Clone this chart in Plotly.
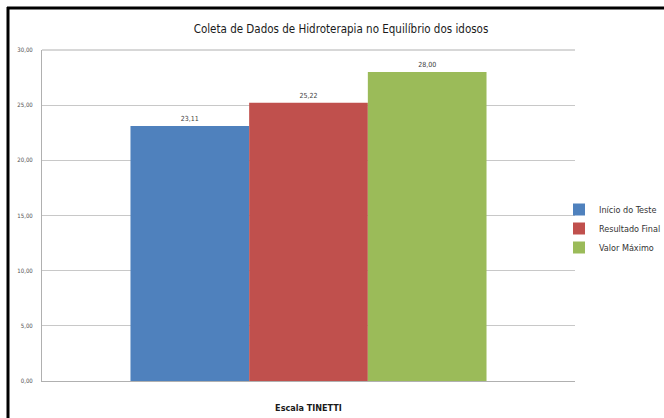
import plotly.graph_objects as go

categories = ["Escala TINETTI"]
series_names = ["Início do Teste", "Resultado Final", "Valor Máximo"]
series_values = [[23.11], [25.22], [28.00]]
label_texts = ["23,11", "25,22", "28,00"]
colors = ["#4F81BD", "#C0504D", "#9BBB59"]
y_ticks = [0, 5, 10, 15, 20, 25, 30]

W, H = 664, 418
L, R, T, B = 42, 89, 50, 37
pw, ph = W - L - R, H - T - B

fig = go.Figure()
for name, vals, lab, col in zip(series_names, series_values, label_texts, colors):
    fig.add_trace(go.Bar(
        x=categories, y=vals, name=name, marker=dict(color=col, line=dict(width=0)),
        text=[lab], textposition="outside", cliponaxis=False,
        textfont=dict(size=7, color="#404040", family="DejaVu Sans Condensed"),
    ))

def px(x):
    return (x - L) / pw

def py(y):
    return 1 - (y - T) / ph

font_fam = "Liberation Sans Narrow, DejaVu Sans Condensed, Roboto, sans-serif"
fig.update_layout(
    width=W, height=H,
    margin=dict(l=L, r=R, t=T, b=B, pad=0, autoexpand=False),
    paper_bgcolor="white", plot_bgcolor="white",
    barmode="group", bargap=0.332, bargroupgap=0,
    separators=",.",
    title=dict(text="Coleta de Dados de Hidroterapia no Equilíbrio dos idosos",
               x=341 / W, xref="container", xanchor="center",
               y=1 - 29 / H, yref="container", yanchor="middle",
               font=dict(size=11.5, color="#1a1a1a", family=font_fam)),
    font=dict(family=font_fam),
    legend=dict(x=px(559), xanchor="left", y=py(195), yanchor="top",
                font=dict(size=9, color="#333333", family="DejaVu Sans Condensed"),
                itemwidth=30, tracegroupgap=0, bgcolor="rgba(0,0,0,0)"),
    showlegend=True,
    xaxis=dict(showgrid=False, showline=True, linecolor="#b0b0b0", linewidth=1,
               tickfont=dict(size=9, color="#1a1a1a", family=font_fam, weight="bold"),
               ticks="", ticklabelstandoff=18),
    yaxis=dict(range=[0, 30], tickvals=y_ticks, tickformat=".2f",
               showgrid=True, gridcolor="#c8c8c8", gridwidth=1,
               showline=True, linecolor="#b0b0b0", linewidth=1,
               zeroline=False, ticks="", ticklabelstandoff=7,
               tickfont=dict(size=6, color="#505050", family=font_fam)),
    shapes=[
        dict(type="line", xref="paper", yref="paper", x0=px(7), x1=px(W + 5),
             y0=py(8), y1=py(8), line=dict(color="black", width=3)),
        dict(type="line", xref="paper", yref="paper", x0=px(8), x1=px(8),
             y0=py(7), y1=py(H + 5), line=dict(color="black", width=3)),
        dict(type="line", xref="paper", yref="paper", x0=0, x1=1,
             y0=1, y1=1, line=dict(color="#b0b0b0", width=1)),
    ],
)

fig.write_html("out.html")
